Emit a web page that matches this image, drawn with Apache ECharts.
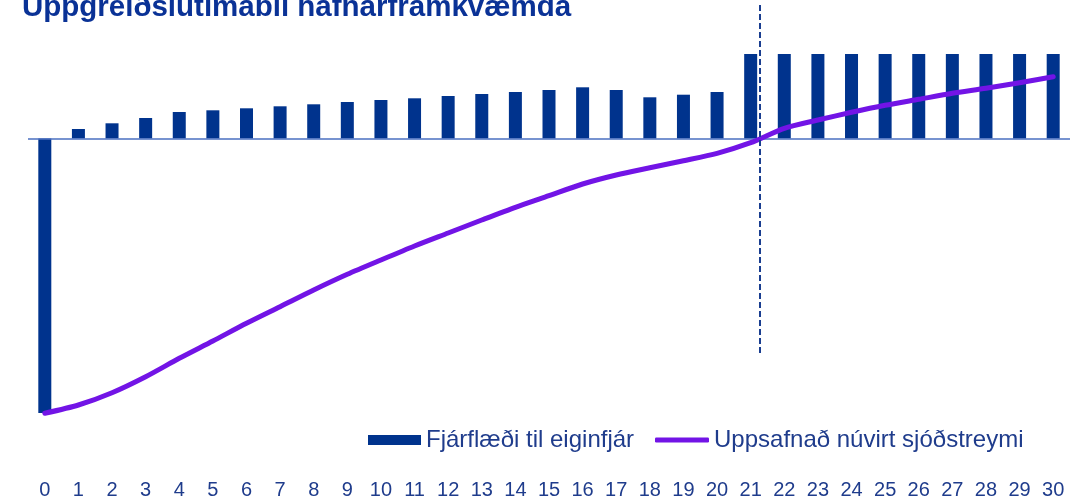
<!DOCTYPE html>
<html>
<head>
<meta charset="utf-8">
<script src="https://cdn.jsdelivr.net/npm/echarts@6/dist/echarts.min.js"></script>
<style>
html,body{margin:0;padding:0;background:#fff;}
#chart{width:1078px;height:502px;}
</style>
</head>
<body>
<div id="chart"></div>
<script>
const titleText = 'Uppgreiðslutímabil hafnarframkvæmda';
const seriesNames = ['Fjárflæði til eiginfjár', 'Uppsafnað núvirt sjóðstreymi'];
const categories = ['0','1','2','3','4','5','6','7','8','9','10','11','12','13','14','15','16','17','18','19','20','21','22','23','24','25','26','27','28','29','30'];
const cashFlow = [-2745, 95, 152, 205, 265, 282, 302, 322, 342, 365, 385, 402, 425, 445, 465, 485, 512, 485, 412, 438, 465, 845, 845, 845, 845, 845, 845, 845, 845, 845, 845];
const cumulativeNpv = [-2748, -2665, -2542, -2382, -2198, -2025, -1848, -1682, -1515, -1358, -1215, -1075, -945, -815, -688, -572, -455, -365, -292, -222, -148, -42, 102, 185, 262, 332, 392, 452, 502, 558, 618];
const paybackYear = 21.28;

const chart = echarts.init(document.getElementById('chart'), null, {renderer: 'canvas'});
const blue = '#00338D';
const textBlue = '#1F3C8C';
const purple = '#7214E6';
const font = 'Liberation Sans, Arial, sans-serif';

chart.setOption({
  animation: false,
  backgroundColor: '#ffffff',
  title: {
    text: titleText,
    left: 17,
    top: -12,
    textStyle: {fontFamily: font, fontSize: 29.5, fontWeight: 'bold', color: '#0A3296'}
  },
  legend: [{
    data: [{name: seriesNames[0], icon: 'rect'}],
    left: 363,
    top: 423,
    itemWidth: 53,
    itemHeight: 10,
    textStyle: {fontFamily: font, fontSize: 24, color: textBlue}
  }, {
    data: [{name: seriesNames[1], icon: 'roundRect', itemStyle: {color: purple}}],
    left: 650,
    top: 423,
    itemWidth: 54,
    itemHeight: 5,
    textStyle: {fontFamily: font, fontSize: 24, color: textBlue}
  }],
  grid: {left: 28, right: 8, top: 3.5, bottom: 83.5, containLabel: false},
  xAxis: [{
    type: 'category',
    data: categories,
    boundaryGap: true,
    axisLine: {show: false, onZero: false},
    axisTick: {show: false},
    splitLine: {show: false},
    axisLabel: {margin: 62, interval: 0, fontFamily: font, fontSize: 20, color: textBlue}
  }, {
    type: 'value',
    min: -0.5,
    max: 30.5,
    show: false
  }],
  yAxis: {
    type: 'value',
    min: -2800,
    max: 1350,
    show: false,
    splitLine: {show: false}
  },
  series: [{
    name: seriesNames[0],
    type: 'bar',
    data: cashFlow,
    barWidth: 13,
    itemStyle: {color: blue},
    z: 2,
    markLine: {
      silent: true,
      symbol: 'none',
      label: {show: false},
      lineStyle: {color: '#4A6FC0', width: 1.5, type: 'solid'},
      data: [{yAxis: 0}],
      z: 3
    }
  }, {
    name: seriesNames[1],
    type: 'line',
    data: cumulativeNpv,
    symbol: 'none',
    smooth: 0.25,
    lineStyle: {color: purple, width: 5, cap: 'round', join: 'round'},
    itemStyle: {color: purple},
    z: 4
  }, {
    name: 'payback',
    type: 'line',
    xAxisIndex: 1,
    data: [],
    symbol: 'none',
    markLine: {
      silent: true,
      symbol: 'none',
      label: {show: false},
      lineStyle: {color: '#1A3E90', width: 2, type: [6, 3]},
      data: [[{coord: [paybackYear, 1335]}, {coord: [paybackYear, -2165]}]]
    },
    z: 5
  }]
});
</script>
</body>
</html>
